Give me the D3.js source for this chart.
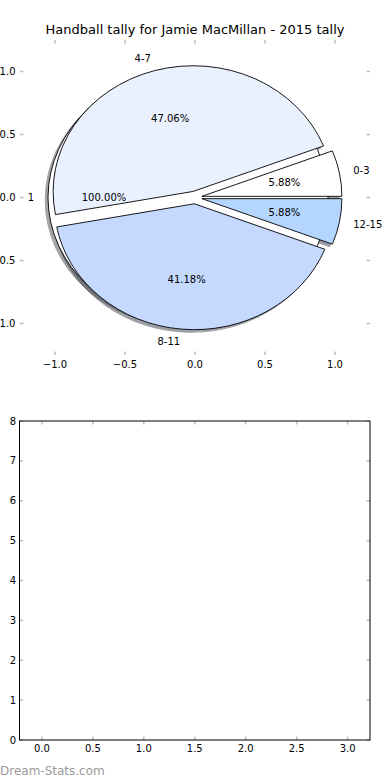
<!DOCTYPE html>
<html><head><meta charset="utf-8">
<script src="https://cdn.jsdelivr.net/npm/d3@7"></script>
<style>body{margin:0;background:#fff}svg{display:block}text{font-family:"DejaVu Sans",sans-serif}</style>
</head><body>
<svg id="c" width="390" height="780"></svg>
<script>
// ---- data ----
const titleText = "Handball tally for Jamie MacMillan - 2015 tally";
const pie1Labels = ["1"];
const pie1Values = [1];
const pie1Colors = ["#ffffff"];
const pie1Explode = [0.05];
const pie2Labels = ["0-3", "4-7", "8-11", "12-15"];
const pie2Values = [1, 8, 7, 1];
const pie2Colors = ["#ffffff", "#eaf1fe", "#c5d8fe", "#b4d5fe"];
const pie2Explode = [0.05, 0.05, 0.05, 0.05];
const pieTicks = [-1.0, -0.5, 0.0, 0.5, 1.0];
const barXTicks = [0.0, 0.5, 1.0, 1.5, 2.0, 2.5, 3.0];
const barYTicks = [0, 1, 2, 3, 4, 5, 6, 7, 8];
const watermark = "Dream-Stats.com";

const svg = d3.select("#c");
const tickColor = "#bdbdbd";
const fmt1 = v => (v < 0 ? "\u2212" : "") + Math.abs(v).toFixed(1);

// ---- top axes (pie) ----
const px = d3.scaleLinear().domain([-1.25, 1.25]).range([20, 370]);
const py = d3.scaleLinear().domain([-1.25, 1.25]).range([355, 40]);

svg.append("text").attr("x", 195).attr("y", 34).attr("text-anchor", "middle")
  .attr("font-size", 13).attr("fill", "#000").text(titleText);

const tk = svg.append("g").attr("stroke", tickColor).attr("stroke-width", 1.5);
pieTicks.forEach(v => {
  tk.append("line").attr("x1", px(v)).attr("x2", px(v)).attr("y1", py.range()[1]).attr("y2", py.range()[1] + 3.5);
  tk.append("line").attr("x1", px(v)).attr("x2", px(v)).attr("y1", py.range()[0]).attr("y2", py.range()[0] - 3.5);
  tk.append("line").attr("y1", py(v)).attr("y2", py(v)).attr("x1", px.range()[0]).attr("x2", px.range()[0] + 3.5);
  tk.append("line").attr("y1", py(v)).attr("y2", py(v)).attr("x1", px.range()[1]).attr("x2", px.range()[1] - 3.5);
});
const tl = svg.append("g").attr("font-size", 10).attr("fill", "#000");
pieTicks.forEach(v => {
  tl.append("text").attr("x", px(v)).attr("y", py.range()[0] + 13).attr("text-anchor", "middle").text(fmt1(v));
  tl.append("text").attr("x", px.range()[0] - 4.5).attr("y", py(v)).attr("dy", "0.36em").attr("text-anchor", "end").text(fmt1(v));
});

function layout(values, labels, colors, explode) {
  const total = d3.sum(values);
  const arcs = d3.pie().sort(null).startAngle(0).endAngle(2 * Math.PI)(values);
  return arcs.map((a, i) => {
    const tm = (a.startAngle + a.endAngle) / 2;
    return {
      t1: a.startAngle, t2: a.endAngle, tm,
      label: labels[i], color: colors[i],
      cx: explode[i] * Math.cos(tm), cy: explode[i] * Math.sin(tm),
      pct: values[i] / total * 100
    };
  });
}
const w1 = layout(pie1Values, pie1Labels, pie1Colors, pie1Explode);
const w2 = layout(pie2Values, pie2Labels, pie2Colors, pie2Explode);
const all = w1.concat(w2);

const arc = d3.arc().innerRadius(0).outerRadius(1)
  .startAngle(d => Math.PI / 2 + d.t1).endAngle(d => Math.PI / 2 + d.t2);

const pg = svg.append("g")
  .attr("transform", `translate(${px(0)},${py(0)}) scale(${px(1) - px(0)},${py(1) - py(0)})`);

const shade = c => { const r = d3.rgb(c); return d3.rgb(r.r * 0.3, r.g * 0.3, r.b * 0.3).toString(); };
// shadows
pg.selectAll("path.sh").data(all).enter().append("path").attr("class", "sh")
  .attr("d", arc).attr("transform", d => `translate(${d.cx - 0.02},${d.cy - 0.02})`)
  .attr("fill", d => shade(d.color)).attr("stroke", d => shade(d.color))
  .attr("opacity", 0.5).attr("vector-effect", "non-scaling-stroke").attr("stroke-width", 1);
// wedges
pg.selectAll("path.w").data(all).enter().append("path").attr("class", "w")
  .attr("d", arc).attr("transform", d => `translate(${d.cx},${d.cy})`)
  .attr("fill", d => d.color).attr("stroke", "#000").attr("stroke-linejoin", "miter")
  .attr("vector-effect", "non-scaling-stroke").attr("stroke-width", 0.9);

// labels
const lg = svg.append("g").attr("font-size", 10).attr("fill", "#000");
all.forEach(d => {
  const lx = d.cx + 1.1 * Math.cos(d.tm), ly = d.cy + 1.1 * Math.sin(d.tm);
  lg.append("text").attr("x", px(lx)).attr("y", py(ly)).attr("dy", "0.36em")
    .attr("text-anchor", lx > 0 ? "start" : "end").text(d.label);
  const qx = d.cx + 0.6 * Math.cos(d.tm), qy = d.cy + 0.6 * Math.sin(d.tm);
  lg.append("text").attr("x", px(qx)).attr("y", py(qy)).attr("dy", "0.36em")
    .attr("text-anchor", "middle").text(d.pct.toFixed(2) + "%");
});

// ---- bottom axes (empty) ----
const bx = d3.scaleLinear().domain([-0.22, 3.22]).range([19.5, 370]);
const by = d3.scaleLinear().domain([0, 8]).range([740, 421]);
const bt = svg.append("g").attr("stroke", tickColor).attr("stroke-width", 1.5);
barXTicks.forEach(v => {
  bt.append("line").attr("x1", bx(v)).attr("x2", bx(v)).attr("y1", by(8)).attr("y2", by(8) + 3.5);
  bt.append("line").attr("x1", bx(v)).attr("x2", bx(v)).attr("y1", by(0)).attr("y2", by(0) - 3.5);
});
barYTicks.forEach(v => {
  bt.append("line").attr("y1", by(v)).attr("y2", by(v)).attr("x1", bx.range()[0]).attr("x2", bx.range()[0] + 3.5);
  bt.append("line").attr("y1", by(v)).attr("y2", by(v)).attr("x1", bx.range()[1]).attr("x2", bx.range()[1] - 3.5);
});
svg.append("rect").attr("x", bx.range()[0]).attr("y", by(8))
  .attr("width", bx.range()[1] - bx.range()[0]).attr("height", by(0) - by(8))
  .attr("fill", "none").attr("stroke", "#000").attr("stroke-width", 1);
const bl = svg.append("g").attr("font-size", 10).attr("fill", "#000");
barXTicks.forEach(v => bl.append("text").attr("x", bx(v)).attr("y", by(0) + 12).attr("text-anchor", "middle").text(fmt1(v)));
barYTicks.forEach(v => bl.append("text").attr("x", bx.range()[0] - 3.5).attr("y", by(v)).attr("dy", "0.36em").attr("text-anchor", "end").text(v));

svg.append("text").attr("x", 0).attr("y", 775).attr("font-size", 12).attr("fill", "#9a9a9a").text(watermark);
</script>
</body></html>
